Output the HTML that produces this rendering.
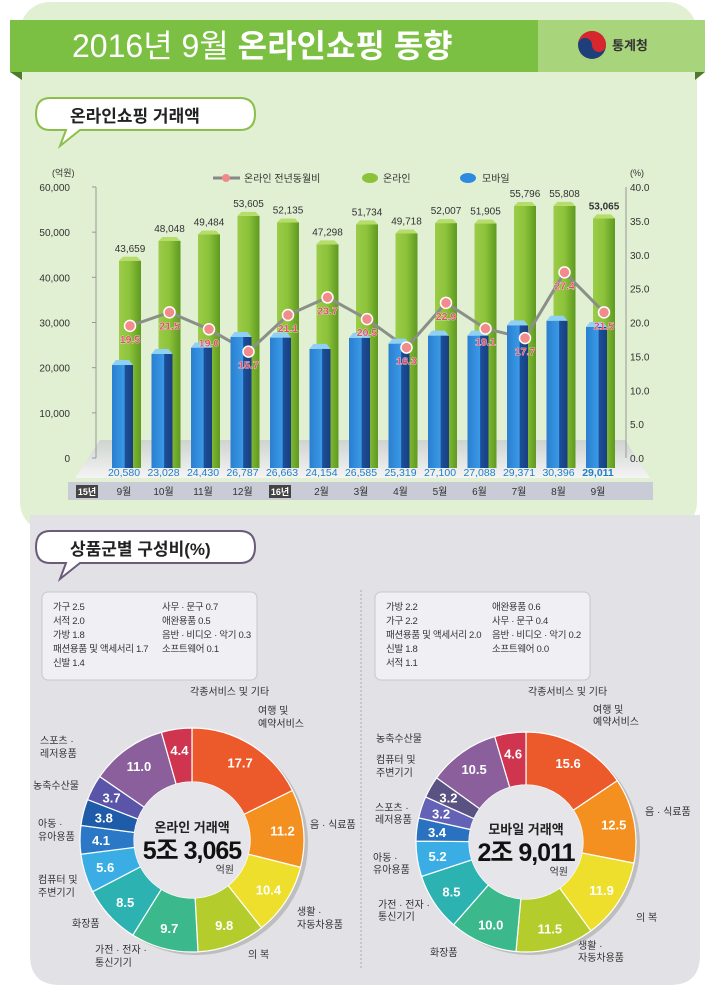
<!DOCTYPE html>
<html><head><meta charset="utf-8">
<style>
html,body{margin:0;padding:0;background:#fff;}
svg{display:block;font-family:"Liberation Sans","Noto Sans CJK KR",sans-serif;}
</style></head>
<body>
<svg id="root" width="719" height="987" viewBox="0 0 719 987" xmlns="http://www.w3.org/2000/svg">
<defs>
<linearGradient id="gGreen" x1="0" x2="1"><stop offset="0" stop-color="#9ccc48"/><stop offset="0.5" stop-color="#8cc23a"/><stop offset="1" stop-color="#5e9a20"/></linearGradient>
<linearGradient id="gBlue" x1="0" x2="1"><stop offset="0" stop-color="#2a7fd0"/><stop offset="0.6" stop-color="#3a9ae6"/><stop offset="0.61" stop-color="#1d4f9a"/><stop offset="1" stop-color="#173f80"/></linearGradient>
<linearGradient id="gFloor" x1="0" y1="0" x2="0" y2="1"><stop offset="0" stop-color="#cfd4d0"/><stop offset="1" stop-color="#f4f4f4"/></linearGradient>
</defs>
<rect x="20" y="2" width="677" height="530" rx="30" fill="#e1efd2"/>
<path d="M30 515 H700 V955 Q700 985 670 985 H60 Q30 985 30 955 Z" fill="#e2e2e6"/>
<rect x="10" y="20" width="528" height="52" fill="#7cc043"/>
<rect x="538" y="20" width="167" height="52" fill="#a8d47c"/>
<polygon points="10,72 22,72 22,80" fill="#4f7a2a"/><polygon points="705,72 695,72 695,80" fill="#4f7a2a"/>
<text x="72" y="57" font-size="32" fill="#fff">2016년 9월 <tspan font-weight="bold">온라인쇼핑 동향</tspan></text>
<g>
<circle cx="592" cy="45" r="14" fill="#1f3f7a"/>
<path d="M578 45 A14 14 0 0 1 606 45 A7 7 0 0 1 592 45 A7 7 0 0 0 578 45Z" fill="#d8262f"/>
<text x="612" y="50" font-size="13" font-weight="bold" fill="#333">통계청</text>
</g>
<g>
<path d="M50 98 H240 Q255 98 255 114 Q255 130 240 130 H80 L60 146 L66 130 H50 Q36 130 36 114 Q36 98 50 98Z" fill="#fff" stroke="#8cbf4a" stroke-width="2"/>
<text x="70" y="122" font-size="17" font-weight="bold" fill="#222">온라인쇼핑 거래액</text>
</g>
<g>
<path d="M50 531 H240 Q255 531 255 547 Q255 563 240 563 H80 L60 579 L66 563 H50 Q36 563 36 547 Q36 531 50 531Z" fill="#fff" stroke="#6b5a7a" stroke-width="2"/>
<text x="70" y="555" font-size="17" font-weight="bold" fill="#222">상품군별 구성비(%)</text>
</g>
<g id="chart"></g>
<line x1="361" y1="590" x2="361" y2="970" stroke="#aaa" stroke-dasharray="2,2"/>
<g>
<rect x="42" y="592" width="215" height="88" rx="6" fill="#f0f0f4" stroke="#c8c8cc"/>
<g font-size="9.5" fill="#333" letter-spacing="-0.3">
<text x="53" y="610">가구 2.5</text><text x="53" y="624">서적 2.0</text><text x="53" y="638">가방 1.8</text><text x="53" y="652">패션용품 및 액세서리 1.7</text><text x="53" y="666">신발 1.4</text>
<text x="162" y="610">사무 · 문구 0.7</text><text x="162" y="624">애완용품 0.5</text><text x="162" y="638">음반 · 비디오 · 악기 0.3</text><text x="162" y="652">소프트웨어 0.1</text>
</g></g>
<g>
<rect x="375" y="592" width="215" height="88" rx="6" fill="#f0f0f4" stroke="#c8c8cc"/>
<g font-size="9.5" fill="#333" letter-spacing="-0.3">
<text x="386" y="610">가방 2.2</text><text x="386" y="624">가구 2.2</text><text x="386" y="638">패션용품 및 액세서리 2.0</text><text x="386" y="652">신발 1.8</text><text x="386" y="666">서적 1.1</text>
<text x="492" y="610">애완용품 0.6</text><text x="492" y="624">사무 · 문구 0.4</text><text x="492" y="638">음반 · 비디오 · 악기 0.2</text><text x="492" y="652">소프트웨어 0.0</text>
</g></g>
<g id="donuts"></g>
<g font-size="10" fill="#333">
<text x="190" y="695">각종서비스 및 기타</text>
<text x="258" y="714">여행 및</text><text x="258" y="727">예약서비스</text>
<text x="310" y="828">음 · 식료품</text>
<text x="297" y="915">생활 ·</text><text x="297" y="928">자동차용품</text>
<text x="248" y="958">의 복</text>
<text x="95" y="953">가전 · 전자 ·</text><text x="95" y="966">통신기기</text>
<text x="72" y="927">화장품</text>
<text x="38" y="883">컴퓨터 및</text><text x="38" y="896">주변기기</text>
<text x="38" y="827">아동 ·</text><text x="38" y="840">유아용품</text>
<text x="33" y="789">농축수산물</text>
<text x="40" y="744">스포츠 ·</text><text x="40" y="757">레저용품</text>
<text x="528" y="695">각종서비스 및 기타</text>
<text x="593" y="713">여행 및</text><text x="593" y="725">예약서비스</text>
<text x="645" y="815">음 · 식료품</text>
<text x="636" y="921">의 복</text>
<text x="578" y="949">생활 ·</text><text x="578" y="961">자동차용품</text>
<text x="430" y="956">화장품</text>
<text x="378" y="908">가전 · 전자 ·</text><text x="378" y="920">통신기기</text>
<text x="373" y="861">아동 ·</text><text x="373" y="873">유아용품</text>
<text x="375" y="811">스포츠 ·</text><text x="375" y="823">레저용품</text>
<text x="376" y="763">컴퓨터 및</text><text x="376" y="776">주변기기</text>
<text x="376" y="742">농축수산물</text>
</g>
</svg>
<script>
const months=["9월","10월","11월","12월","1월","2월","3월","4월","5월","6월","7월","8월","9월"];
const onlineVals=[43659,48048,49484,53605,52135,47298,51734,49718,52007,51905,55796,55808,53065];
const mobileVals=[20580,23028,24430,26787,26663,24154,26585,25319,27100,27088,29371,30396,29011];
const yoyVals=[19.5,21.5,19.0,15.7,21.1,23.7,20.5,16.3,22.9,19.1,17.7,27.4,21.5];
const leftTicks=[0,10000,20000,30000,40000,50000,60000];
const rightTicks=[0,5,10,15,20,25,30,35,40];
const onlineShares=[17.7,11.2,10.4,9.8,9.7,8.5,5.6,4.1,3.8,3.7,11.0,4.4];
const mobileShares=[15.6,12.5,11.9,11.5,10.0,8.5,5.2,3.4,3.2,3.2,10.5,4.6];
const onlineColors=["#ec5a2c","#f3901f","#eedf2c","#b4cd2c","#3cb98c","#2cb2b0","#3aaee4","#2a78c6","#1e5ba8","#5a55a8","#8b5f9b","#d0354f"];
const mobileColors=["#ec5a2c","#f3901f","#eedf2c","#b4cd2c","#3cb98c","#2cb2b0","#3aaee4","#2a72c0","#6462b6","#5a5282","#8b5f9b","#d0354f"];

const NS="http://www.w3.org/2000/svg";
function mk(p,t,a,txt){const e=document.createElementNS(NS,t);for(const k in a)e.setAttribute(k,a[k]);if(txt!==undefined)e.textContent=txt;p.appendChild(e);return e;}
const chart=document.getElementById('chart');
const y0=458,yTop=187;
const yL=v=>y0-(v/60000)*(y0-yTop);
const yR=v=>y0-(v/40)*(y0-yTop);
const xg=i=>112+39.5*i;
const fmt=v=>v.toLocaleString('en-US');
let f=mk(chart,'polygon',{points:"100,440 625,440 650,478 75,478",fill:"url(#gFloor)"});


let band=mk(chart,'rect',{x:68,y:482,width:585,height:18,fill:"#c9ccd6"});


mk(chart,'line',{x1:96,y1:yTop,x2:96,y2:y0,stroke:"#999"});
mk(chart,'line',{x1:626,y1:yTop,x2:626,y2:y0,stroke:"#999"});
leftTicks.forEach(v=>{const t=mk(chart,'text',{x:70,y:yL(v)+4,'font-size':10,'text-anchor':'end',fill:'#333'},fmt(v));


mk(chart,'line',{x1:92,y1:yL(v),x2:96,y2:yL(v),stroke:'#999'});});
rightTicks.forEach(v=>{const t=mk(chart,'text',{x:630,y:yR(v)+4,'font-size':10,fill:'#333'},v.toFixed(1));

});
mk(chart,'text',{x:52,y:176,'font-size':9,fill:'#333'},"(억원)");
mk(chart,'text',{x:630,y:176,'font-size':9,fill:'#333'},"(%)");
const lg=mk(chart,'g',{});


mk(lg,'line',{x1:213,y1:178,x2:240,y2:178,stroke:'#888','stroke-width':3});
mk(lg,'circle',{cx:226,cy:178,r:4,fill:'#f08a8a'});
mk(lg,'text',{x:244,y:182,'font-size':10,fill:'#333'},"온라인 전년동월비");
mk(lg,'ellipse',{cx:370,cy:178,rx:8,ry:5,fill:'#8cc23a'});
mk(lg,'text',{x:383,y:182,'font-size':10,fill:'#333'},"온라인");
mk(lg,'ellipse',{cx:468,cy:178,rx:8,ry:5,fill:'#2e8ae0'});
mk(lg,'text',{x:482,y:182,'font-size':10,fill:'#333'},"모바일");
onlineVals.forEach((v,i)=>{const x=xg(i)+7,w=22,yt=yL(v);
const b=mk(chart,'rect',{x:x,y:yt,width:w,height:y0+10-yt,fill:'url(#gGreen)'});


mk(chart,'polygon',{points:`${x},${yt} ${x+4},${yt-4} ${x+w-4},${yt-4} ${x+w},${yt}`,fill:'#b6dc6a'});
const t=mk(chart,'text',{x:x+w/2,y:yt-9,'font-size':10,'text-anchor':'middle',fill:'#333','font-weight':i==12?'bold':'normal'},fmt(v));

});
const pts=yoyVals.map((v,i)=>`${xg(i)+18},${yR(v)}`).join(' ');
const pl=mk(chart,'polyline',{points:pts,fill:'none',stroke:'#8a8f88','stroke-width':3});


mobileVals.forEach((v,i)=>{const x=xg(i),w=21,yt=yL(v);
const b=mk(chart,'rect',{x:x,y:yt,width:w,height:y0+10-yt,fill:'url(#gBlue)'});


mk(chart,'polygon',{points:`${x},${yt} ${x+4},${yt-5} ${x+w-4},${yt-5} ${x+w},${yt}`,fill:'#8fd0f4'});
const t=mk(chart,'text',{x:x+12,y:476,'font-size':10.5,'text-anchor':'middle',fill:'#1e7fc8','font-weight':i==12?'bold':'normal'},fmt(v));


const m=mk(chart,'text',{x:x+12,y:495,'font-size':10,'text-anchor':'middle',fill:'#333'},months[i]);

});
[["15년",76],["16년",269]].forEach(([s,x])=>{mk(chart,'rect',{x:x,y:485,width:22,height:13,fill:'#444'});mk(chart,'text',{x:x+11,y:495,'font-size':9,'text-anchor':'middle',fill:'#fff','font-weight':'bold'},s);});
yoyVals.forEach((v,i)=>{const cx=xg(i)+18,cy=yR(v);
const c=mk(chart,'circle',{cx:cx,cy:cy,r:5.5,fill:'#f28c8c',stroke:'#fff','stroke-width':1.5});


const t=mk(chart,'text',{x:cx,y:cy+17,'font-size':10.5,'text-anchor':'middle',fill:'#e0506a','font-weight':'bold',stroke:'#fff','stroke-width':0.6,'paint-order':'stroke'},v.toFixed(1));

});
const dg=document.getElementById('donuts');
function donut(cx,cy,ro,ri,vals,cols,name,title,big){
const g=mk(dg,'g',{});


const tot=vals.reduce((a,b)=>a+b,0);let a0=-Math.PI/2;
mk(g,'circle',{cx:cx+4,cy:cy+3,r:ro,fill:'#9a9a9a',opacity:0.5});
vals.forEach((v,i)=>{const a1=a0+v/tot*2*Math.PI;
const p=(r,a)=>[cx+r*Math.cos(a),cy+r*Math.sin(a)];
const [x1,y1]=p(ro,a0),[x2,y2]=p(ro,a1),[x3,y3]=p(ri,a1),[x4,y4]=p(ri,a0);const L=(a1-a0)>Math.PI?1:0;
const s=mk(g,'path',{d:`M${x1},${y1} A${ro},${ro} 0 ${L} 1 ${x2},${y2} L${x3},${y3} A${ri},${ri} 0 ${L} 0 ${x4},${y4}Z`,fill:cols[i],stroke:'#fff','stroke-width':1.2});


const am=(a0+a1)/2,[tx,ty]=p((ro+ri)/2+6,am);
const t=mk(g,'text',{x:tx,y:ty+5,'font-size':13,'font-weight':'bold','text-anchor':'middle',fill:'#fff'},v.toFixed(1));


a0=a1;});
mk(g,'circle',{cx:cx,cy:cy,r:ri,fill:'#e6e6ea'});
mk(g,'text',{x:cx,y:cy-8,'font-size':13,'font-weight':'bold','text-anchor':'middle',fill:'#222'},title);
mk(g,'text',{x:cx,y:cy+19,'font-size':25,'font-weight':'bold','text-anchor':'middle',fill:'#111','letter-spacing':-1},big);
mk(g,'text',{x:cx+42,y:cy+33,'font-size':10,'text-anchor':'end',fill:'#333'},"억원");
}
donut(192,840,112,58,onlineShares,onlineColors,'online-donut',"온라인 거래액","5조 3,065");
donut(526,842,110,57,mobileShares,mobileColors,'mobile-donut',"모바일 거래액","2조 9,011");
</script>
</body></html>
